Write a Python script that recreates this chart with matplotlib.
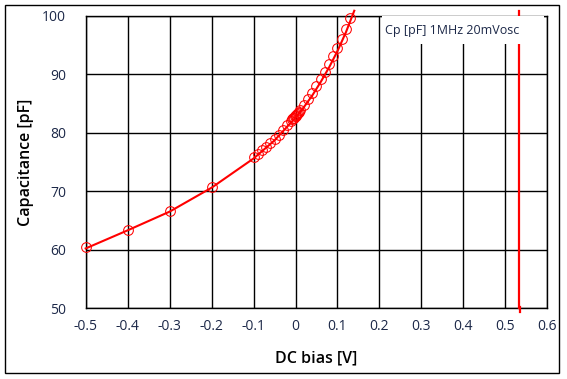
import matplotlib
matplotlib.use("Agg")
import matplotlib.pyplot as plt
from matplotlib.patches import Rectangle

plt.rcParams['font.family'] = ['Open Sans', 'DejaVu Sans']

# DC bias sweep (V) and capacitance (pF)
bias = [-0.5, -0.4, -0.3, -0.2, -0.1, -0.09, -0.08, -0.07, -0.06, -0.05, -0.04,
        -0.03, -0.02, -0.01, -0.008, -0.006, -0.004, -0.002, 0.0, 0.002, 0.004,
        0.006, 0.008, 0.01, 0.02, 0.03, 0.04, 0.05, 0.06, 0.07, 0.08, 0.09,
        0.10, 0.11, 0.12, 0.13]
cap = [60.4, 63.4, 66.6, 70.7, 75.9, 76.4, 77.0, 77.6, 78.3, 79.0, 79.7,
       80.5, 81.3, 82.1, 82.3, 82.5, 82.6, 82.8, 82.9, 83.1, 83.3,
       83.4, 83.6, 83.9, 84.8, 85.8, 86.9, 88.0, 89.2, 90.4, 91.7, 93.1,
       94.6, 96.1, 97.8, 99.6]

# return sweep trace (line only)
bias_line = [-0.5, -0.4, -0.3, -0.2, -0.1, -0.05, 0.0, 0.02, 0.04, 0.06, 0.08,
             0.10, 0.12, 0.14]
cap_line = [60.2, 63.3, 66.5, 70.6, 75.6, 78.7, 82.6, 84.4, 86.4, 88.7, 91.2,
            94.0, 97.2, 100.9]

cursor_v = 0.533
xticks = [-0.5, -0.4, -0.3, -0.2, -0.1, 0, 0.1, 0.2, 0.3, 0.4, 0.5, 0.6]
xticklabels = ['-0.5', '-0.4', '-0.3', '-0.2', '-0.1', '0', '0.1', '0.2', '0.3',
               '0.4', '0.5', '0.6']
yticks = [50, 60, 70, 80, 90, 100]
legend_text = 'Cp [pF] 1MHz 20mVosc'

fig = plt.figure(figsize=(5.67, 3.79), dpi=100)
ax = fig.add_axes([0.1511, 0.1873, 0.9653 - 0.1511, 0.9578 - 0.1873])

# outer frame
fig.patches.append(Rectangle((5 / 567, 6 / 379), 554 / 567, 368 / 379,
                             transform=fig.transFigure, fill=False,
                             edgecolor='black', linewidth=1.0))

ax.set_xlim(-0.5, 0.6)
ax.set_ylim(50, 100)
ax.set_xticks(xticks)
ax.set_xticklabels(xticklabels)
ax.set_yticks(yticks)
ax.grid(True, color='black', linewidth=1.0)
ax.set_axisbelow(True)
for s in ax.spines.values():
    s.set_color('black')
    s.set_linewidth(1.0)
ax.tick_params(length=0, labelsize=10, colors='#1c2848', pad=8)
ax.tick_params(axis='y', pad=14)

ax.plot(bias_line, cap_line, color='red', linewidth=1.5, clip_on=False, zorder=3)
ax.plot(bias, cap, linestyle='none', marker='o', markersize=7,
        markerfacecolor='none', markeredgecolor='red', markeredgewidth=0.75,
        clip_on=False, zorder=3)

# cursor line
ax.plot([cursor_v, cursor_v], [50, 100.9], color='red', linewidth=1.6,
        clip_on=False, zorder=3)
ax.plot([cursor_v + 0.002, cursor_v + 0.002], [49.4, 50.1], color='red',
        linewidth=1.6, clip_on=False, zorder=3)

# legend box
ax.add_patch(Rectangle((0.207, 95.2), 0.385, 4.8, facecolor='white',
                       edgecolor='none', zorder=4))
ax.text(0.213, 97.5, legend_text, fontsize=9, color='#1c2848',
        va='center', ha='left', zorder=5)

ax.set_xlabel('DC bias [V]', fontsize=11.5, fontweight='semibold', labelpad=12)
ax.set_ylabel('Capacitance [pF]', fontsize=11.5, fontweight='semibold', labelpad=6)

fig.savefig('out.png', dpi=100)
